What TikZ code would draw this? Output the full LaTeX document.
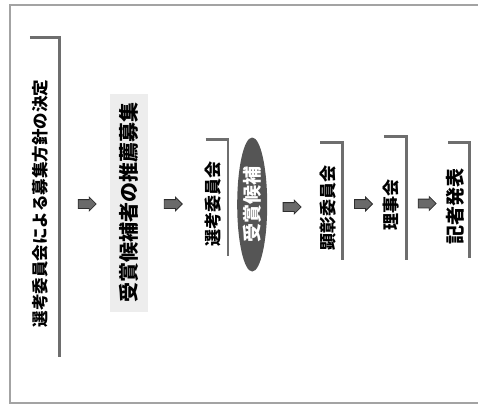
\documentclass[tikz,border=0pt]{standalone}
\usepackage{fontspec}
\newfontfamily\jpfont{Noto Sans CJK JP}
\usetikzlibrary{positioning,shapes.geometric,shapes.arrows,calc}

\begin{document}
\begin{tikzpicture}[x=1pt, y=-1pt]
       \definecolor{framegray}{HTML}{A3A3A3}
       \definecolor{rimgray}{HTML}{6E6E6E}
       \definecolor{speckle}{HTML}{EDEDED}
       \definecolor{darkoval}{HTML}{555555}
       \definecolor{arrowgray}{HTML}{6A6A6A}
       \definecolor{arrowdark}{HTML}{2E2E2E}

       \newcommand{\stagename}[1]{\hspace*{-4pt}\raisebox{-6pt}[\height][0pt]{\rotatebox{90}{\jpfont #1}}\hspace*{4pt}}
       \newcommand{\vlabel}[1]{\rotatebox{90}{\jpfont #1}}

       \tikzstyle{stage}     = [inner sep=0pt, minimum width=22pt, font=\fontsize{17}{17}\selectfont\bfseries]
       \tikzstyle{rim}       = [draw=rimgray, line width=2.8pt]
       \tikzstyle{connector} = [single arrow, draw=arrowdark, fill=arrowgray, thick, minimum height=18pt, minimum width=13pt, single arrow head extend=2.5pt, inner xsep=0pt, inner ysep=4pt, xshift=-2pt, yshift=-4pt]

       \useasboundingbox (0,0) rectangle (478,416);
       \draw [framegray, line width=1.5pt] (480,5) -- (10,5) -- (10,403) -- (480,403);

       \node [stage, minimum width=29pt, minimum height=319pt, font=\fontsize{16.5}{16.5}\selectfont\bfseries] (policy) at (44.5,197.5) {
         \stagename{選考委員会による募集方針の決定}
       };

       \node [right = 51pt of policy, yshift=-5pt, fill=speckle, inner sep=0pt, minimum width=38pt, minimum height=218pt, font=\fontsize{20}{20}\selectfont\bfseries] (call) {
         \vlabel{受賞候補者の推薦募集}
       };

       \node [stage, right = 57pt of call, yshift=5pt, minimum height=116pt] (council) {
         \stagename{選考委員会}
       };

       \node [ellipse, right = 9pt of council, yshift=-7pt, fill=darkoval, text=white, inner sep=0pt, minimum width=30pt, minimum height=134pt, font=\fontsize{19}{19}\selectfont\bfseries] (award) {
         \vlabel{受賞候補}
       };

       \node [stage, right = 53pt of award, yshift=3pt, minimum height=117pt] (honor) {
         \stagename{顕彰委員会}
       };

       \node [stage, right = 41pt of honor, yshift=3pt, minimum height=123pt] (board) {
         \stagename{理事会}
       };

       \node [stage, right = 42pt of board, yshift=-2pt, minimum width=21pt, minimum height=115pt, font=\fontsize{19}{19}\selectfont\bfseries] (press) {
         \stagename{記者発表}
       };

       \foreach \stagenode in {policy, council, honor, board, press}
         \draw [rim] (\stagenode.north west) -- (\stagenode.north east) -- (\stagenode.south east);

       \node [connector] (arrow1) at ($(policy)!0.5!(call)$)  {};
       \node [connector] (arrow2) at ($(call)!0.5!(council)$) {};
       \node [connector] (arrow3) at ($(award)!0.5!(honor)$)  {};
       \node [connector] (arrow4) at ($(honor)!0.5!(board)$)  {};
       \node [connector] (arrow5) at ($(board)!0.5!(press)$)  {};
\end{tikzpicture}
\end{document}
